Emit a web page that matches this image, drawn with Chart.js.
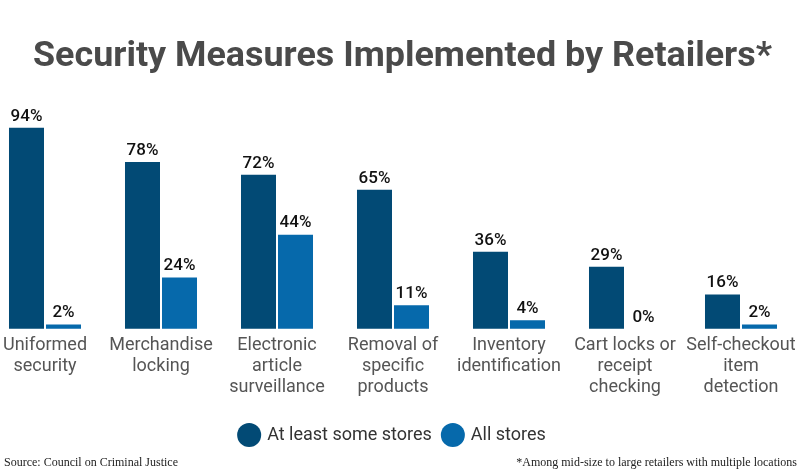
<!DOCTYPE html>
<html>
<head>
<meta charset="utf-8">
<script src="https://cdn.jsdelivr.net/npm/chart.js@4"></script>
<style>
  html, body { margin: 0; padding: 0; background: #fff; }
  #wrap { width: 800px; height: 475px; }
</style>
</head>
<body>
<div id="wrap"><canvas id="myChart" width="800" height="475"></canvas></div>
<script>
const categories = [
  ["Uniformed", "security"],
  ["Merchandise", "locking"],
  ["Electronic", "article", "surveillance"],
  ["Removal of", "specific", "products"],
  ["Inventory", "identification"],
  ["Cart locks or", "receipt", "checking"],
  ["Self-checkout", "item", "detection"],
];
const someStores = [94, 78, 72, 65, 36, 29, 16];
const allStores = [2, 24, 44, 11, 4, 0, 2];

const titleText = "Security Measures Implemented by Retailers*";

// title drawn by hand so it can be stretched to the reference width
const wideTitle = {
  id: "wideTitle",
  afterDraw(chart) {
    const ctx = chart.ctx;
    ctx.save();
    ctx.font = "bold 35px Roboto";
    ctx.fillStyle = "#4a4a4a";
    ctx.textBaseline = "alphabetic";
    ctx.textAlign = "left";
    const w = ctx.measureText(titleText).width;
    const target = 739;
    ctx.translate(33, 66);
    ctx.scale(target / w, 1);
    ctx.fillText(titleText, 0, 0);
    ctx.restore();
  },
};

// draws the "94%" style labels above each bar
const valueLabels = {
  id: "valueLabels",
  afterDatasetsDraw(chart) {
    const ctx = chart.ctx;
    ctx.save();
    ctx.font = "500 17px Roboto";
    ctx.fillStyle = "#111";
    ctx.textAlign = "center";
    ctx.textBaseline = "bottom";
    chart.data.datasets.forEach((ds, i) => {
      chart.getDatasetMeta(i).data.forEach((bar, j) => {
        ctx.fillText(ds.data[j] + "%", bar.x, bar.y - 3);
      });
    });
    ctx.restore();
  },
};

// source / footnote line along the bottom
const footer = {
  id: "footer",
  afterDraw(chart) {
    const ctx = chart.ctx;
    ctx.save();
    ctx.font = "12px 'Liberation Serif'";
    ctx.fillStyle = "#222";
    ctx.textBaseline = "middle";
    ctx.textAlign = "left";
    ctx.fillText("Source: Council on Criminal Justice", 4, 463);
    ctx.textAlign = "right";
    ctx.fillText("*Among mid-size to large retailers with multiple locations", 797, 463);
    ctx.restore();
  },
};

new Chart(document.getElementById("myChart"), {
  type: "bar",
  data: {
    labels: categories,
    datasets: [
      {
        label: "At least some stores",
        data: someStores,
        backgroundColor: "#024a75",
        clip: false,
      },
      {
        label: "All stores",
        data: allStores,
        backgroundColor: "#0669ab",
        clip: false,
      },
    ],
  },
  options: {
    responsive: false,
    animation: false,
    layout: { padding: { top: 115, left: 45, right: 59, bottom: 21 } },
    datasets: { bar: { categoryPercentage: 0.638, barPercentage: 0.946 } },
    scales: {
      x: {
        offset: false,
        grid: { display: false },
        border: { display: false },
        ticks: {
          color: "#555",
          font: { family: "Roboto", size: 18, lineHeight: 1.17 },
          padding: -2,
          maxRotation: 0,
          autoSkip: false,
        },
        // leave room between the labels and the legend
        afterFit: (scale) => {
          scale.height += 18;
        },
      },
      y: { display: false, min: 0, max: 100 },
    },
    plugins: {
      title: { display: false },
      legend: {
        position: "bottom",
        labels: {
          usePointStyle: true,
          pointStyle: "circle",
          boxHeight: 17,
          color: "#333",
          font: { family: "Roboto", size: 18 },
          padding: 12,
        },
      },
      tooltip: { enabled: false },
    },
  },
  plugins: [wideTitle, valueLabels, footer],
});
</script>
</body>
</html>
